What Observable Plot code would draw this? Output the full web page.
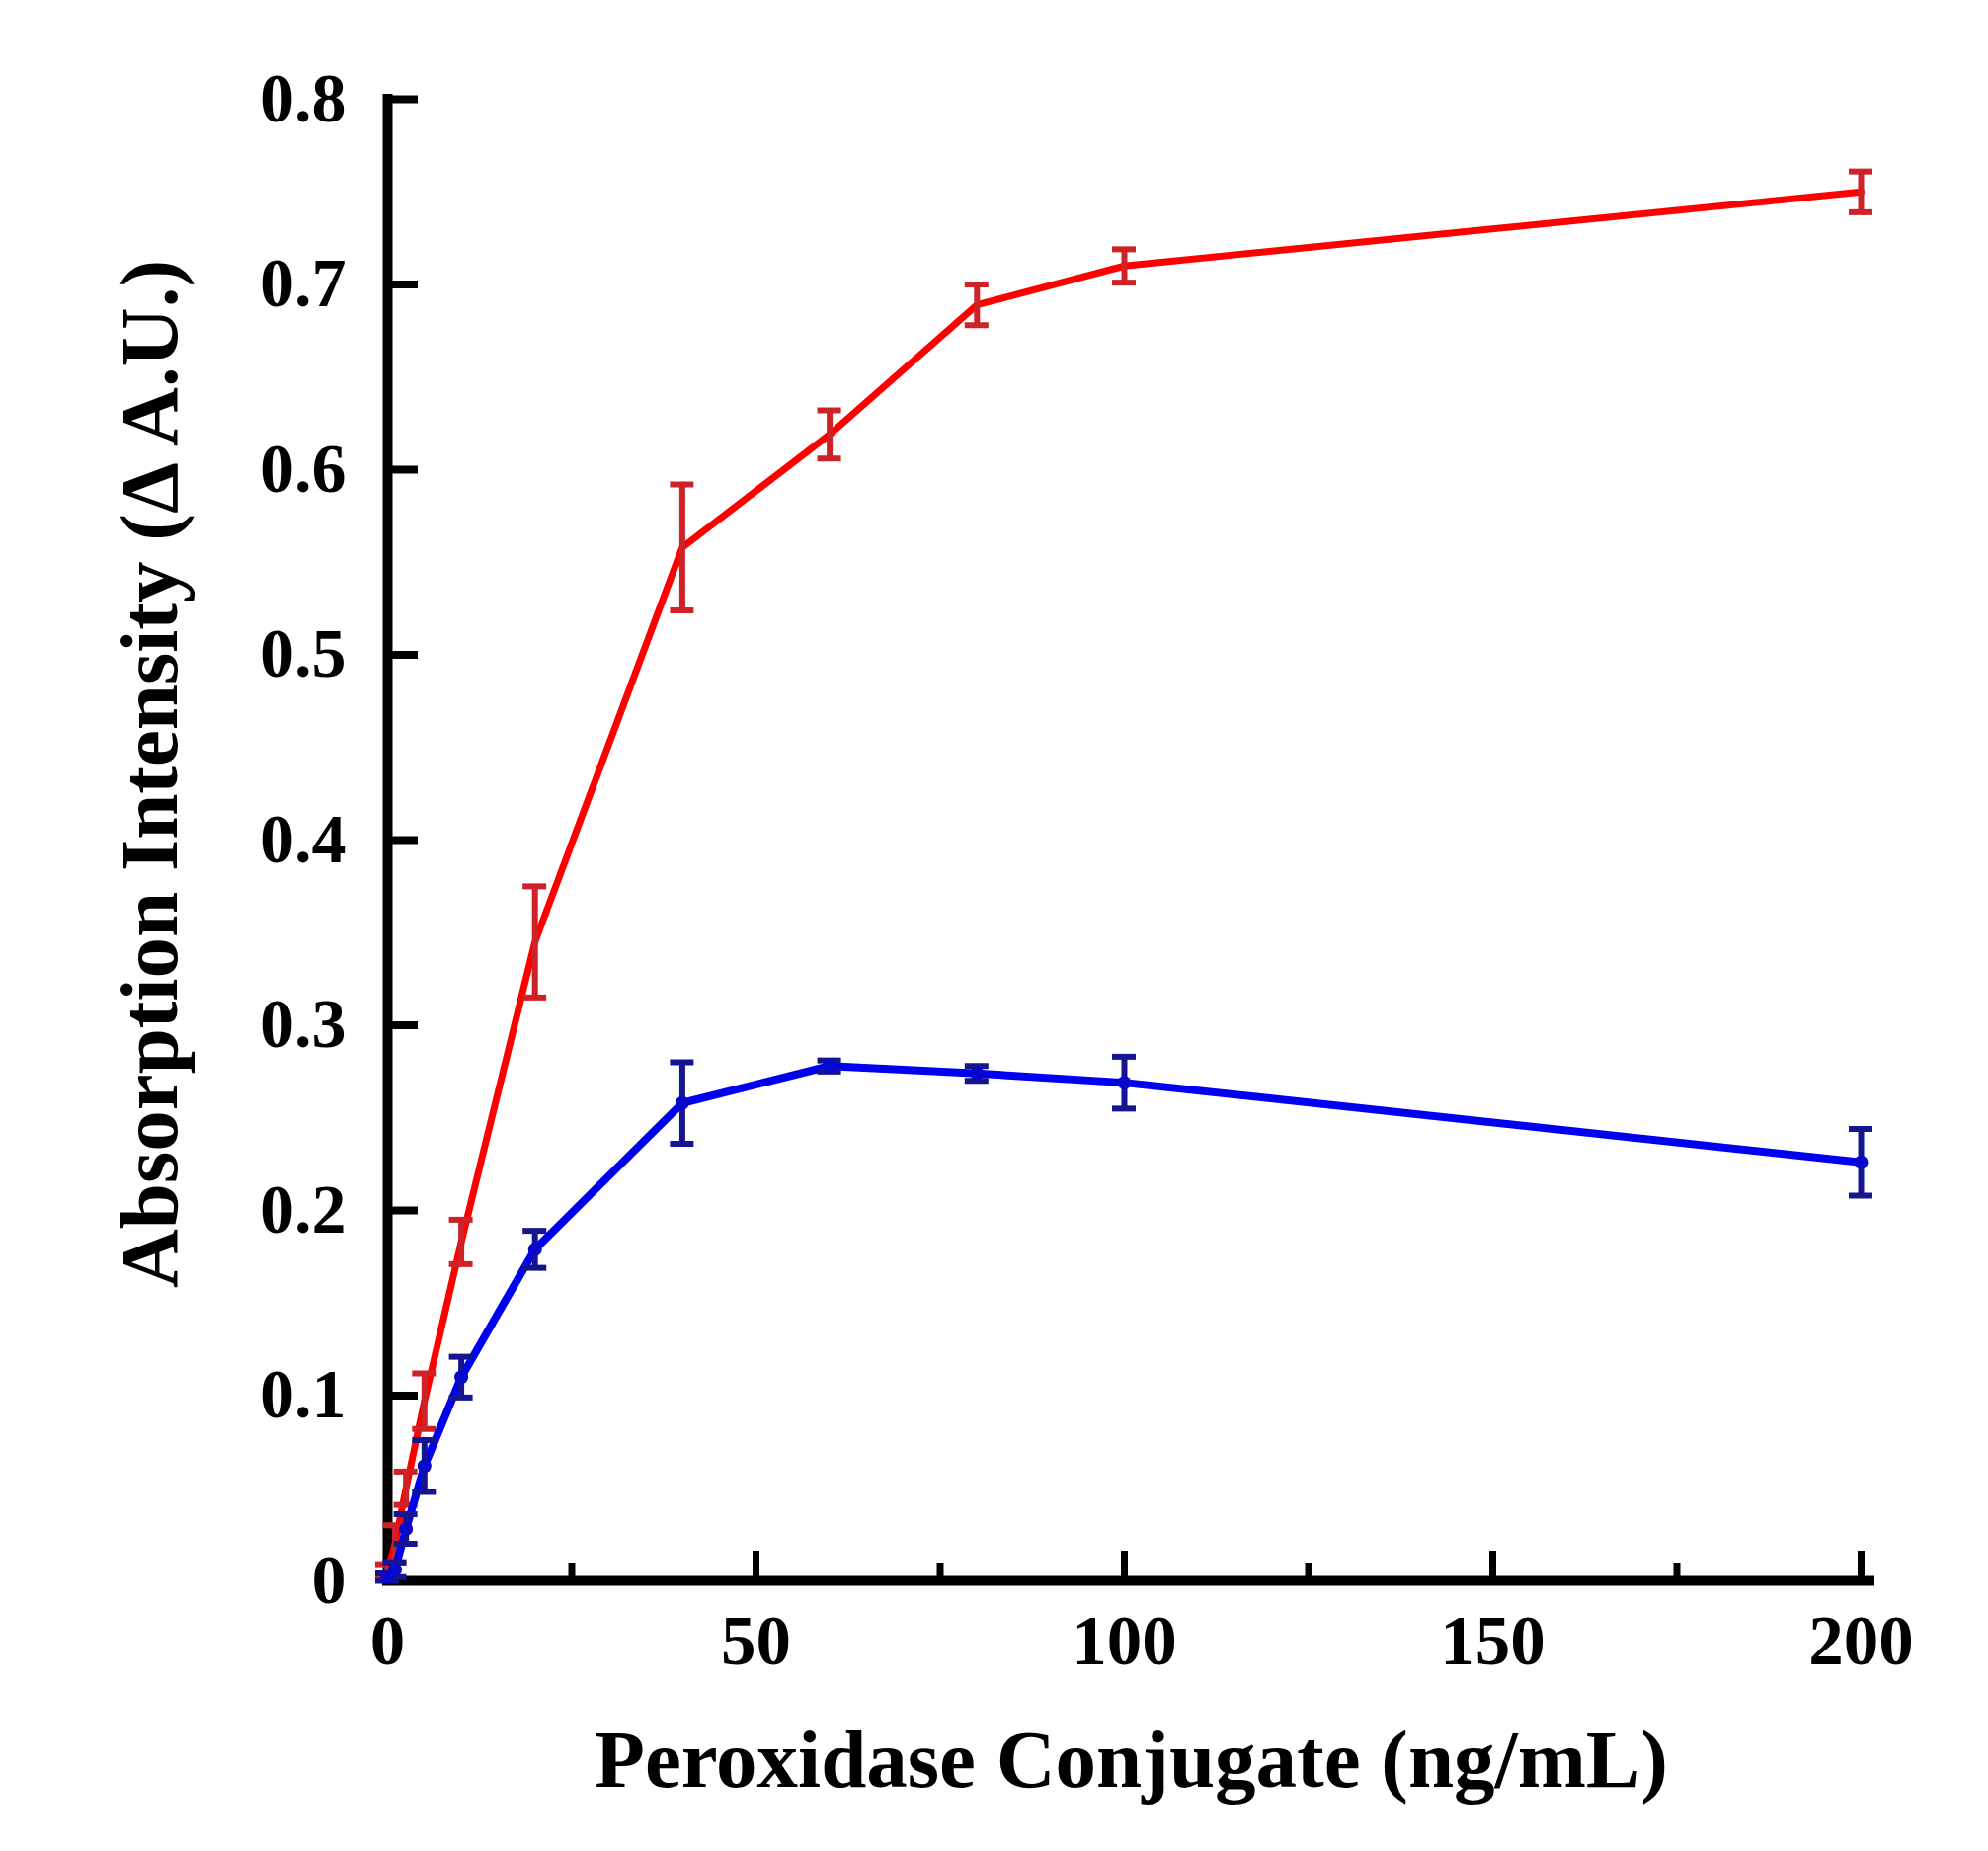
<!DOCTYPE html>
<html>
<head>
<meta charset="utf-8">
<script src="https://cdn.jsdelivr.net/npm/d3@7"></script>
<script src="https://cdn.jsdelivr.net/npm/@observablehq/plot@0.6"></script>
<style>
  html, body { margin: 0; padding: 0; background: white; overflow: hidden; }
  #chart svg { display: block; }
</style>
</head>
<body>
<div id="chart"></div>
<script>
// concentrations (ng/mL)
const conc = [0, 1, 2.5, 5, 10, 20, 40, 60, 80, 100, 200];

// red series
const redMean = [0.005, 0.02, 0.05, 0.097, 0.183, 0.345, 0.558, 0.619, 0.689, 0.71, 0.75];
const redErr = [0.004, 0.01, 0.009, 0.015, 0.012, 0.03, 0.034, 0.013, 0.011, 0.009, 0.011];

// blue series
const blueMean = [0.002, 0.006, 0.028, 0.062, 0.11, 0.179, 0.258, 0.278, 0.274, 0.269, 0.226];
const blueErr = [0.002, 0.004, 0.008, 0.014, 0.011, 0.01, 0.022, 0.003, 0.004, 0.014, 0.018];

// ticks
const xMajor = [0, 50, 100, 150, 200];
const xMinor = [25, 75, 125, 175];
const yTicks = [0, 0.1, 0.2, 0.3, 0.4, 0.5, 0.6, 0.7, 0.8];

const xLabel = "Peroxidase Conjugate (ng/mL)";
const yLabel = "Absorption Intensity (Δ A.U.)";

const rows = (mean, err) => conc.map((x, i) => ({x, y: mean[i], lo: mean[i] - err[i], hi: mean[i] + err[i]}));
const red = rows(redMean, redErr);
const blue = rows(blueMean, blueErr);

// error bar: stem + two caps
const errorBars = (data, color) => [
  Plot.ruleX(data, {x: "x", y1: "lo", y2: "hi", stroke: color, strokeWidth: 6}),
  Plot.ruleY(data, {y: "hi", x1: "x", x2: "x", insetLeft: -12, insetRight: -12, stroke: color, strokeWidth: 6}),
  Plot.ruleY(data, {y: "lo", x1: "x", x2: "x", insetLeft: -12, insetRight: -12, stroke: color, strokeWidth: 6})
];

const chart = Plot.plot({
  width: 2013,
  height: 1874,
  marginLeft: 392,
  marginRight: 129,
  marginTop: 100,
  marginBottom: 274,
  style: {fontFamily: "'Liberation Serif', 'Times New Roman', serif", color: "black", background: "white"},
  x: {domain: [0, 200], axis: null},
  y: {domain: [0, 0.8], axis: null},
  marks: [
    // axis lines
    Plot.ruleY([0], {insetLeft: -5, insetRight: -14, stroke: "black", strokeWidth: 10}),
    Plot.ruleX([0], {insetTop: -5, insetBottom: -5, stroke: "black", strokeWidth: 10}),
    // inward ticks
    Plot.ruleY(yTicks, {y: d => d, x1: 0, x2: 0, insetRight: -31, stroke: "black", strokeWidth: 8}),
    Plot.ruleX(xMajor, {x: d => d, y1: 0, y2: 0, insetTop: -30, stroke: "black", strokeWidth: 7}),
    Plot.ruleX(xMinor, {x: d => d, y1: 0, y2: 0, insetTop: -18, stroke: "black", strokeWidth: 7}),
    // tick labels
    Plot.axisY(yTicks, {tickSize: 0, tickPadding: 42, tickFormat: d => String(d), fontSize: 70, fontWeight: "bold", label: null}),
    Plot.axisX(xMajor, {tickSize: 0, tickPadding: 34, tickFormat: d => String(d), fontSize: 71, fontWeight: "bold", label: null}),
    // axis titles
    Plot.text([yLabel], {text: d => d, frameAnchor: "left", rotate: -90, dx: -240, dy: -67, textAnchor: "middle", lineAnchor: "middle", fontSize: 83, fontWeight: "bold", fill: "black"}),
    Plot.text([xLabel], {text: d => d, frameAnchor: "bottom", dx: 7, dy: 182, textAnchor: "middle", lineAnchor: "middle", fontSize: 83, fontWeight: "bold", fill: "black"}),
    // red series
    Plot.line(red, {x: "x", y: "y", stroke: "#ff0000", strokeWidth: 7}),
    ...errorBars(red, "#cc2228"),
    // blue series
    Plot.line(blue, {x: "x", y: "y", stroke: "#0000f0", strokeWidth: 8}),
    ...errorBars(blue, "#15158f"),
    Plot.dot(blue, {x: "x", y: "y", r: 7, fill: "#0808c8"})
  ]
});

d3.select("#chart").append(() => chart);
</script>
</body>
</html>
